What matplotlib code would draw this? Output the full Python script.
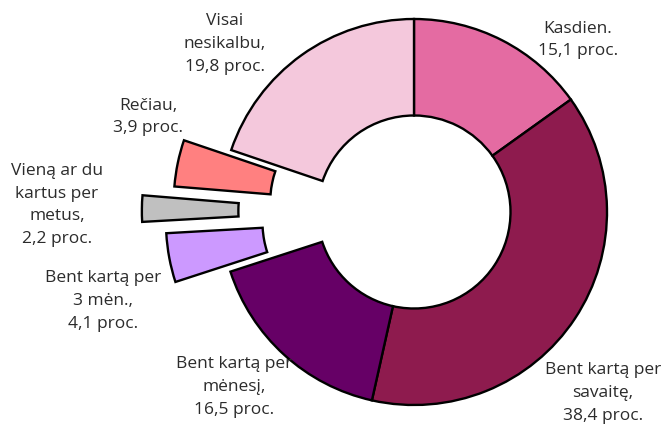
import matplotlib
matplotlib.use("Agg")
import matplotlib.pyplot as plt

# shares, clockwise from the top
labels = ["Kasdien.\n15,1 proc.",
          "Bent kartą per\nsavaitę,\n38,4 proc.",
          "Bent kartą per\nmėnesį,\n16,5 proc.",
          "Bent kartą per\n3 mėn.,\n4,1 proc.",
          "Vieną ar du\nkartus per\nmetus,\n2,2 proc.",
          "Rečiau,\n3,9 proc.",
          "Visai\nnesikalbu,\n19,8 proc."]
values = [15.1, 38.4, 16.5, 4.1, 2.2, 3.9, 19.8]
colors = ["#E46BA2", "#8E1B4E", "#660066", "#CC99FF", "#C0C0C0", "#FF8080", "#F4C8DC"]
explode = [0, 0, 0, 0.29, 0.41, 0.25, 0]

# label anchor points in pixels (centre of text block)
label_pos = [(578, 40), (603, 393), (234, 387), (103, 301), (57, 205), (148, 117), (225, 44)]

W, H = 667, 427
fig = plt.figure(figsize=(W / 100, H / 100), dpi=100)
ax = fig.add_axes([0, 0, 1, 1])

R = 193.0
cx, cy = 414.0, 213.0

ax.pie(values, colors=colors, explode=explode, startangle=90, counterclock=False,
       radius=1, wedgeprops=dict(width=0.5, edgecolor="black", linewidth=1.7))
ax.set_aspect("auto")
ax.set_xlim(-cx / R, (W - cx) / R)
ax.set_ylim(-(H - cy) / R, cy / R)
ax.axis("off")

for txt, (px, py) in zip(labels, label_pos):
    fig.text(px / W, 1 - py / H, txt, ha="center", va="center", fontsize=12.5,
             family="Open Sans", color="#2b2b2b", linespacing=1.55)

fig.savefig("out.png", dpi=100)
